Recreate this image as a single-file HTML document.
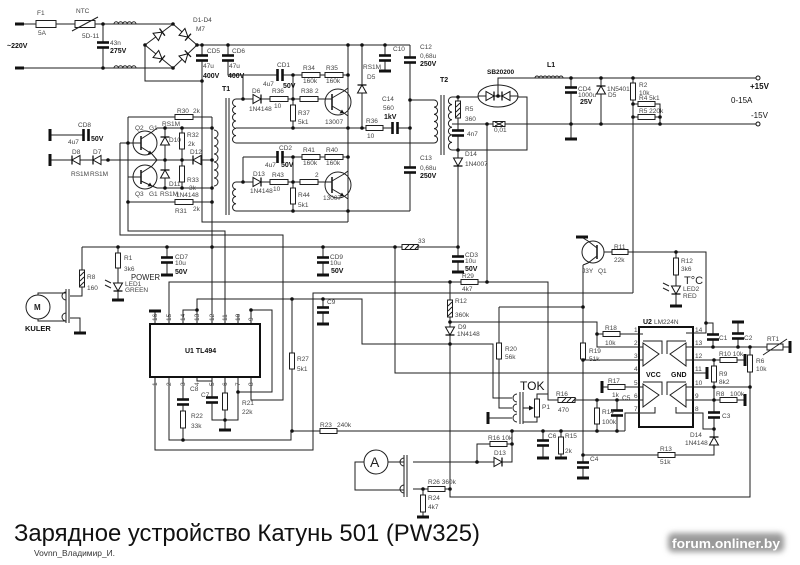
<!DOCTYPE html>
<html><head><meta charset="utf-8">
<style>
html,body{margin:0;padding:0;background:#fff;}
body{width:800px;height:565px;overflow:hidden;position:relative;}
svg{position:absolute;left:0;top:0;}
.w{fill:none;stroke:#1e1e1e;stroke-width:1;}
.r{fill:#fff;stroke:#1e1e1e;stroke-width:1;}
.t{fill:none;stroke:#1e1e1e;stroke-width:1;}
text{font-family:"Liberation Sans",sans-serif;font-size:6.5px;fill:#444;}
.b{font-weight:bold;fill:#111;font-size:7px;}
.m{font-size:5.5px;fill:#333;}
</style></head><body>
<svg width="800" height="565" viewBox="0 0 800 565">
<defs>
<g id="cv"><rect x="-6" y="-1.5" width="12" height="3" fill="#fff"/><rect x="-6" y="-3.8" width="12" height="2.6" fill="#111"/><rect x="-6" y="1.2" width="12" height="2.6" fill="#111"/></g>
<g id="ch"><rect x="-1.5" y="-6" width="3" height="12" fill="#fff"/><rect x="-3.8" y="-6" width="2.6" height="12" fill="#111"/><rect x="1.2" y="-6" width="2.6" height="12" fill="#111"/></g>
<g id="gb"><rect x="-6" y="-1.5" width="12" height="3" fill="#111"/></g>
<g id="gv"><rect x="-1.5" y="-6" width="3" height="12" fill="#111"/></g>
<g id="dr"><path d="M-4 -4.5L-4 4.5L4 0Z" fill="#fff" stroke="#111" stroke-width="1"/><path d="M4 -4.5V4.5" stroke="#111" stroke-width="1.3"/></g>
<filter id="bl" x="-20%" y="-50%" width="140%" height="200%"><feGaussianBlur stdDeviation="3"/></filter>
</defs>

<!-- WIRES -->
<path class="w" d="
M15 24H173 M15 68H173 M103 24V68
M173 24L145 45L173 68L197 45Z
M145 45V81H202 M197 45H410 M202 45V222H348
M228 45V75H348 M243 75V99 M348 45V222
M236 99H326 M293 75V128 M236 128H410 M236 143H434
M243 157H348 M243 157V182 M236 182H326 M293 157V211
M236 211H410 M410 45V211 M410 100H434 M362 45V128 M385 45V71
M128 117H212 M128 117V231H225V324 M212 117V324 M128 202H212
M120 143H141 M120 143V235H283V400H251V377 M128 177H141
M157 128H212 M157 188H212 M50 160H212 M165 128V188 M182 128V188
M50 135H84
M141 139L152 132L157 128 M141 147L152 154L157 160
M141 173L152 166L157 160 M141 181L152 186L157 188
M452 97H478 M458 97V272 M452 150H527V97H518 M452 124H758 M487 124V282
M478 96H518 M498 96V78H758
M571 78V139 M601 78V123 M633 78V293 M633 104H660V123 M633 117H660
M82 247H458 M82 247V296H70 M118 247V300 M167 247V275 M323 247V275
M395 247V373H640
M169 324V282H548V400H640
M183 324V310H197 M197 324V299H362V344H493V398H512
M292 299V431 M323 299V324
M155 377V450H313V293H633
M450 282V497H750V387
M450 322H597V347H640 M597 334H640
M499 307H583 M499 307V408H512 M488 418H512
M537 399V394H548 M537 417V422H523 M525 408H533
M583 265V478 M583 360H640 M583 455H714V400
M604 252H706V333H693 M676 252V306
M706 323H713V347 M693 347H790 M738 347V322 M750 347V387
M693 360H745 M714 360V400 M693 373H707 M693 387H750 M693 400H745
M693 413H703V429H714
M602 387H640 M597 400V431 M617 400V431 M640 413H625V431
M292 431H625 M543 431V458 M561 431V458
M512 431V462H477V444H512 M413 462H477
M364 462H355V490H404 M388 462H404
M413 489H450 M423 489V517
M155 324V311 M238 324V314 M251 324V310H272V392H238
M169 377V440H291V431 M183 377V440 M197 377V381H212
M212 377V420H238V377 M225 377V430
M38 295V293H66 M38 319V321H66 M70 318H80V333
"/>

<!-- coils / inductors -->
<path class="t" d="M214 130a4 4 0 0 1 0 8a4 4 0 0 1 0 8a4 4 0 0 1 0 8a4 4 0 0 1 0 8a4 4 0 0 1 0 8a4 4 0 0 1 0 8a4 4 0 0 1 0 8"/>
<path class="t" d="M236 99a3.67 3.67 0 0 0 0 7.33a3.67 3.67 0 0 0 0 7.33a3.67 3.67 0 0 0 0 7.33a3.67 3.67 0 0 0 0 7.33a3.67 3.67 0 0 0 0 7.33a3.67 3.67 0 0 0 0 7.33"/>
<path class="t" d="M236 182a3.63 3.63 0 0 0 0 7.25a3.63 3.63 0 0 0 0 7.25a3.63 3.63 0 0 0 0 7.25a3.63 3.63 0 0 0 0 7.25"/>
<path class="t" d="M434 100a3.58 3.58 0 0 1 0 7.17a3.58 3.58 0 0 1 0 7.17a3.58 3.58 0 0 1 0 7.17a3.58 3.58 0 0 1 0 7.17a3.58 3.58 0 0 1 0 7.17a3.58 3.58 0 0 1 0 7.17"/>
<path class="t" d="M452 97a3.79 3.79 0 0 0 0 7.57a3.79 3.79 0 0 0 0 7.57a3.79 3.79 0 0 0 0 7.57a3.79 3.79 0 0 0 0 7.57a3.79 3.79 0 0 0 0 7.57a3.79 3.79 0 0 0 0 7.57a3.79 3.79 0 0 0 0 7.57"/>
<path class="t" d="M114 24a2.2 2.2 0 0 1 4.4 0a2.2 2.2 0 0 1 4.4 0a2.2 2.2 0 0 1 4.4 0a2.2 2.2 0 0 1 4.4 0a2.2 2.2 0 0 1 4.4 0"/>
<path class="t" d="M114 68a2.2 2.2 0 0 1 4.4 0a2.2 2.2 0 0 1 4.4 0a2.2 2.2 0 0 1 4.4 0a2.2 2.2 0 0 1 4.4 0a2.2 2.2 0 0 1 4.4 0"/>
<path class="t" d="M535 78a2 2 0 0 1 4 0a2 2 0 0 1 4 0a2 2 0 0 1 4 0a2 2 0 0 1 4 0a2 2 0 0 1 4 0a2 2 0 0 1 4 0a2 2 0 0 1 4 0" stroke-width="1.3"/>
<!-- transformer cores -->
<path class="t" d="M226 98V215M229 98V215M441 95V155M444 95V155" stroke-width="1.2"/>
<!-- oval -->
<ellipse cx="498" cy="96" rx="20" ry="11" class="t"/>

<!-- terminals -->
<rect x="15" y="22.5" width="9" height="3" fill="#111"/>
<rect x="15" y="66.5" width="9" height="3" fill="#111"/>
<use href="#gv" x="50" y="135"/><use href="#gv" x="50" y="160"/>
<circle cx="758" cy="78" r="2" fill="#fff" stroke="#111"/>
<circle cx="758" cy="124" r="2" fill="#fff" stroke="#111"/>

<!-- F1, NTC -->
<rect class="r" x="36" y="20.5" width="20" height="7"/>
<rect class="r" x="75" y="20.5" width="20" height="7"/>
<path class="t" d="M72 31L98 17"/>

<!-- resistors horizontal -->
<g class="r">
<rect x="175" y="114.5" width="18" height="5"/>
<rect x="175" y="199.5" width="18" height="5"/>
<rect x="270" y="96.5" width="18" height="5"/>
<rect x="300" y="96.5" width="18" height="5"/>
<rect x="302" y="72.5" width="18" height="5"/>
<rect x="325" y="72.5" width="18" height="5"/>
<rect x="302" y="154.5" width="18" height="5"/>
<rect x="325" y="154.5" width="18" height="5"/>
<rect x="270" y="179.5" width="18" height="5"/>
<rect x="300" y="179.5" width="18" height="5"/>
<rect x="366" y="125.5" width="17" height="5"/>
<rect x="493" y="121.5" width="12" height="5"/>
<rect x="638" y="101.5" width="17" height="5"/>
<rect x="638" y="114.5" width="17" height="5"/>
<rect x="402" y="244.5" width="16" height="5"/>
<rect x="461" y="279.5" width="17" height="5"/>
<rect x="320" y="428.5" width="17" height="5"/>
<rect x="558" y="397.5" width="17" height="5"/>
<rect x="490" y="441.5" width="17" height="5"/>
<rect x="428" y="486.5" width="17" height="5"/>
<rect x="603" y="331.5" width="17" height="5"/>
<rect x="608" y="384.5" width="17" height="5"/>
<rect x="612" y="249.5" width="16" height="5"/>
<rect x="658" y="452.5" width="17" height="5"/>
<rect x="720" y="357.5" width="17" height="5"/>
<rect x="720" y="397.5" width="17" height="5"/>
<!-- vertical -->
<rect x="179.5" y="133" width="5" height="16"/>
<rect x="179.5" y="166" width="5" height="16"/>
<rect x="290.5" y="105" width="5" height="16"/>
<rect x="290.5" y="188" width="5" height="16"/>
<rect x="455.5" y="101" width="5" height="17"/>
<rect x="630.5" y="83" width="5" height="17"/>
<rect x="79.5" y="270" width="5" height="17"/>
<rect x="115.5" y="253" width="5" height="15"/>
<rect x="289.5" y="353" width="5" height="16"/>
<rect x="447.5" y="300" width="5" height="17"/>
<rect x="496.5" y="343" width="5" height="16"/>
<rect x="580.5" y="343" width="5" height="16"/>
<rect x="594.5" y="408" width="5" height="16"/>
<rect x="558.5" y="437" width="5" height="17"/>
<rect x="420.5" y="495" width="5" height="17"/>
<rect x="180.5" y="411" width="5" height="17"/>
<rect x="222.5" y="393" width="5" height="17"/>
<rect x="673.5" y="258" width="5" height="17"/>
<rect x="711.5" y="366" width="5" height="16"/>
<rect x="747.5" y="355" width="5" height="17"/>
<rect x="534.5" y="399" width="5" height="18"/>
<rect x="767" y="344" width="16" height="6"/>
</g>
<!-- hatch marks -->
<path class="t" d="M80 276L84 272M80 281L84 277M80 286L84 282M456 107L460 103M456 112L460 108M456 117L460 113M448 306L452 302M448 311L452 307M448 316L452 312M405 249L409 245M410 249L414 245M415 249L419 245M562 402L566 398M567 402L571 398M572 402L576 398M495 122L503 126M495 126L503 122M763 355L787 339"/>
<path d="M523 408L533 408" stroke="#111"/><path d="M534 408L529 405.5L529 410.5Z" fill="#111"/>

<!-- capacitors -->
<use href="#cv" x="103" y="45"/><use href="#cv" x="202" y="58"/><use href="#cv" x="228" y="58"/>
<use href="#cv" x="385" y="58"/><use href="#cv" x="410" y="60"/><use href="#cv" x="410" y="170"/>
<use href="#cv" x="458" y="133"/><use href="#cv" x="571" y="90"/><use href="#cv" x="167" y="260"/>
<use href="#cv" x="323" y="260"/><use href="#cv" x="458" y="259"/><use href="#cv" x="323" y="310"/>
<use href="#cv" x="183" y="402"/><use href="#cv" x="212" y="400"/><use href="#cv" x="543" y="443"/>
<use href="#cv" x="617" y="413"/><use href="#cv" x="583" y="465"/><use href="#cv" x="713" y="337"/>
<use href="#cv" x="738" y="336"/><use href="#cv" x="714" y="415"/>
<use href="#ch" x="280" y="75"/><use href="#ch" x="280" y="157"/><use href="#ch" x="395" y="128"/><use href="#ch" x="86" y="135"/>

<!-- grounds -->
<use href="#gb" x="571" y="139"/><use href="#gb" x="385" y="71"/><use href="#gb" x="118" y="300"/>
<use href="#gb" x="167" y="275"/><use href="#gb" x="323" y="275"/><use href="#gb" x="458" y="272"/>
<use href="#gb" x="323" y="324"/><use href="#gb" x="155" y="311"/><use href="#gb" x="225" y="430"/>
<use href="#gb" x="423" y="517"/><use href="#gb" x="543" y="458"/><use href="#gb" x="561" y="458"/>
<use href="#gb" x="583" y="478"/><use href="#gb" x="582" y="237"/><use href="#gb" x="676" y="306"/>
<use href="#gb" x="738" y="322"/><use href="#gb" x="80" y="333"/>
<use href="#gv" x="488" y="418"/><use href="#gv" x="602" y="387"/><use href="#gv" x="745" y="360"/>
<use href="#gv" x="707" y="373"/><use href="#gv" x="745" y="400"/><use href="#gv" x="790" y="347"/>

<!-- diodes -->
<use href="#dr" transform="translate(159,34.5) rotate(-37)"/>
<use href="#dr" transform="translate(185,34.5) rotate(41)"/>
<use href="#dr" transform="translate(159,56.5) rotate(39)"/>
<use href="#dr" transform="translate(185,56.5) rotate(-44)"/>
<use href="#dr" transform="translate(76,160) rotate(180)"/>
<use href="#dr" transform="translate(97,160) rotate(180)"/>
<use href="#dr" transform="translate(165,141) rotate(-90)"/>
<use href="#dr" transform="translate(165,174) rotate(-90)"/>
<use href="#dr" transform="translate(197,160) rotate(180)"/>
<use href="#dr" transform="translate(257,99)"/>
<use href="#dr" transform="translate(257,182)"/>
<use href="#dr" transform="translate(362,89) rotate(-90)"/>
<use href="#dr" transform="translate(458,162) rotate(90)"/>
<use href="#dr" transform="translate(601,90) rotate(-90)"/>
<use href="#dr" transform="translate(450,331) rotate(90)"/>
<use href="#dr" transform="translate(498,462)"/>
<use href="#dr" transform="translate(714,441) rotate(-90)"/>
<use href="#dr" transform="translate(118,287) rotate(90)"/>
<use href="#dr" transform="translate(676,290) rotate(90)"/>
<use href="#dr" transform="translate(490,96)"/>
<use href="#dr" transform="translate(506,96) rotate(180)"/>
<path class="t" d="M111 283L105 280M111 288L105 285M669 286L663 283M669 291L663 288"/>

<!-- transistors -->
<g class="t">
<circle cx="338" cy="102" r="13"/><circle cx="338" cy="185" r="13"/>
<circle cx="145" cy="143" r="12"/><circle cx="145" cy="177" r="12"/>
<circle cx="593" cy="252" r="11"/>
<path d="M326 99H332M332 98L344 91L348 88M332 106L344 113L348 116M326 182H332M332 181L344 174L348 171M332 189L344 196L348 199M597 248L588 241L583 238M597 256L588 263L583 265"/>
<path d="M332 94V110M332 177V193M141 136V150M141 170V184M597 245V259" stroke-width="1.6"/>
<circle cx="376" cy="462" r="12"/><circle cx="38" cy="307" r="12"/>
</g>
<path d="M344 113l-4.5 0.5l2.5 -4z M344 196l-4.5 0.5l2.5 -4z M152 154l-4.5 0.5l2.5 -4z M152 186l-4.5 0.5l2.5 -4z" fill="#111"/>

<!-- connectors -->
<g class="t">
<path d="M66 289V323M69 289V323M66 292a4 4 0 0 0 0 8M66 313a4 4 0 0 0 0 8"/>
<path d="M404 455V497M407 455V497M404 458a4 4 0 0 0 0 8M404 485a4 4 0 0 0 0 8"/>
<path d="M520 392V424M523 392V424M517 394a4 4 0 0 0 0 8M517 404a4 4 0 0 0 0 8M517 414a4 4 0 0 0 0 8"/>
</g>

<!-- ICs -->
<rect x="150" y="324" width="110" height="53" fill="#fff" stroke="#111" stroke-width="2"/>
<rect x="639" y="327" width="54" height="100" fill="#fff" stroke="#111" stroke-width="2"/>
<g class="t">
<path d="M643 343L659 354L643 366ZM643 384L659 395L643 407ZM686 343L670 354L686 366ZM686 384L670 395L686 407Z"/>
<path d="M643 341H662V354M643 382H662V395M686 341H667V354M686 382H667V395"/>
<path d="M639 334H643M639 347H643M639 360H643M639 387H643M639 400H643M639 413H655V407M693 333H686M693 347H686M693 360H686M693 387H686M693 400H686M693 413H676V407"/>
</g>

<!-- nodes -->
<g fill="#111">
<circle cx="103" cy="24" r="1.8"/><circle cx="103" cy="68" r="1.8"/><circle cx="173" cy="24" r="1.8"/><circle cx="173" cy="68" r="1.8"/><circle cx="145" cy="45" r="1.8"/><circle cx="197" cy="45" r="1.8"/><circle cx="202" cy="45" r="1.8"/><circle cx="228" cy="45" r="1.8"/><circle cx="202" cy="81" r="1.8"/>
<circle cx="128" cy="143" r="1.8"/><circle cx="128" cy="202" r="1.8"/><circle cx="212" cy="202" r="1.8"/><circle cx="165" cy="128" r="1.8"/><circle cx="182" cy="128" r="1.8"/><circle cx="165" cy="188" r="1.8"/><circle cx="182" cy="188" r="1.8"/><circle cx="165" cy="160" r="1.8"/><circle cx="182" cy="160" r="1.8"/><circle cx="212" cy="160" r="1.8"/><circle cx="108" cy="160" r="1.8"/><circle cx="212" cy="128" r="1.8"/><circle cx="212" cy="188" r="1.8"/>
<circle cx="243" cy="99" r="1.8"/><circle cx="293" cy="99" r="1.8"/><circle cx="293" cy="128" r="1.8"/><circle cx="293" cy="75" r="1.8"/><circle cx="348" cy="75" r="1.8"/><circle cx="348" cy="128" r="1.8"/><circle cx="362" cy="128" r="1.8"/><circle cx="410" cy="128" r="1.8"/><circle cx="348" cy="45" r="1.8"/><circle cx="362" cy="45" r="1.8"/><circle cx="385" cy="45" r="1.8"/><circle cx="410" cy="100" r="1.8"/><circle cx="293" cy="157" r="1.8"/><circle cx="348" cy="157" r="1.8"/><circle cx="243" cy="182" r="1.8"/><circle cx="293" cy="182" r="1.8"/><circle cx="293" cy="211" r="1.8"/><circle cx="348" cy="211" r="1.8"/>
<circle cx="458" cy="97" r="1.8"/><circle cx="458" cy="150" r="1.8"/><circle cx="487" cy="124" r="1.8"/><circle cx="498" cy="96" r="1.8"/><circle cx="571" cy="78" r="1.8"/><circle cx="601" cy="78" r="1.8"/><circle cx="633" cy="78" r="1.8"/><circle cx="571" cy="124" r="1.8"/><circle cx="601" cy="124" r="1.8"/><circle cx="633" cy="104" r="1.8"/><circle cx="633" cy="117" r="1.8"/><circle cx="660" cy="117" r="1.8"/><circle cx="660" cy="124" r="1.8"/>
<circle cx="118" cy="247" r="1.8"/><circle cx="167" cy="247" r="1.8"/><circle cx="212" cy="247" r="1.8"/><circle cx="323" cy="247" r="1.8"/><circle cx="395" cy="247" r="1.8"/><circle cx="458" cy="247" r="1.8"/><circle cx="450" cy="282" r="1.8"/><circle cx="487" cy="282" r="1.8"/><circle cx="197" cy="310" r="1.8"/><circle cx="292" cy="299" r="1.8"/><circle cx="323" cy="299" r="1.8"/><circle cx="450" cy="322" r="1.8"/><circle cx="450" cy="344" r="1.8"/>
<circle cx="292" cy="431" r="1.8"/><circle cx="512" cy="431" r="1.8"/><circle cx="543" cy="431" r="1.8"/><circle cx="561" cy="431" r="1.8"/><circle cx="597" cy="431" r="1.8"/><circle cx="617" cy="431" r="1.8"/><circle cx="512" cy="444" r="1.8"/><circle cx="477" cy="462" r="1.8"/><circle cx="423" cy="489" r="1.8"/><circle cx="450" cy="489" r="1.8"/><circle cx="183" cy="440" r="1.8"/><circle cx="238" cy="392" r="1.8"/><circle cx="225" cy="420" r="1.8"/><circle cx="251" cy="310" r="1.8"/>
<circle cx="583" cy="307" r="1.8"/><circle cx="583" cy="360" r="1.8"/><circle cx="583" cy="455" r="1.8"/><circle cx="597" cy="334" r="1.8"/><circle cx="597" cy="400" r="1.8"/><circle cx="617" cy="400" r="1.8"/><circle cx="676" cy="252" r="1.8"/><circle cx="706" cy="323" r="1.8"/><circle cx="713" cy="347" r="1.8"/><circle cx="738" cy="347" r="1.8"/><circle cx="750" cy="347" r="1.8"/><circle cx="714" cy="360" r="1.8"/><circle cx="714" cy="387" r="1.8"/><circle cx="714" cy="400" r="1.8"/><circle cx="714" cy="429" r="1.8"/><circle cx="750" cy="387" r="1.8"/>
</g>

<!-- LABELS -->
<text x="37" y="15">F1</text><text x="38" y="35">5A</text><text x="76" y="13">NTC</text><text x="82" y="38">5D-11</text>
<text x="110" y="45">43n</text><text class="b" x="110" y="53">275V</text><text class="b" x="7" y="48">~220V</text>
<text x="193" y="22">D1-D4</text><text x="196" y="31">M7</text>
<text x="207" y="53">CD5</text><text x="203" y="68">47u</text><text class="b" x="203" y="78">400V</text>
<text x="232" y="53">CD6</text><text x="229" y="68">47u</text><text class="b" x="228" y="78">400V</text>
<text class="b" x="222" y="91">T1</text>
<text x="277" y="67">CD1</text><text x="263" y="86">4u7</text><text class="b" x="283" y="88">50V</text>
<text x="252" y="93">D6</text><text x="249" y="111">1N4148</text><text x="272" y="93">R36</text><text x="274" y="108">10</text>
<text x="301" y="93">R38</text><text x="315" y="93">2</text><text x="298" y="115">R37</text><text x="298" y="124">5k1</text>
<text x="303" y="70">R34</text><text x="303" y="83">160k</text><text x="326" y="70">R35</text><text x="326" y="83">160k</text>
<text x="325" y="124">13007</text>
<text x="279" y="150">CD2</text><text x="265" y="167">4u7</text><text class="b" x="281" y="167">50V</text>
<text x="303" y="152">R41</text><text x="303" y="165">160k</text><text x="326" y="152">R40</text><text x="326" y="165">160k</text>
<text x="253" y="176">D13</text><text x="250" y="193">1N4148</text><text x="272" y="177">R43</text><text x="273" y="191">10</text>
<text x="315" y="177">2</text><text x="298" y="197">R44</text><text x="298" y="207">5k1</text><text x="323" y="200">13007</text>
<text x="363" y="69">RS1M</text><text x="367" y="79">D5</text><text x="393" y="51">C10</text>
<text x="420" y="49">C12</text><text x="420" y="58">0,68u</text><text class="b" x="420" y="66">250V</text>
<text x="382" y="101">C14</text><text x="383" y="110">560</text><text class="b" x="384" y="119">1kV</text>
<text x="366" y="123">R36</text><text x="367" y="138">10</text>
<text x="420" y="160">C13</text><text x="420" y="170">0,68u</text><text class="b" x="420" y="178">250V</text>
<text class="b" x="440" y="82">T2</text><text class="b" x="487" y="74" style="font-size:6.5px">SB20200</text>
<text x="465" y="111">R5</text><text x="465" y="121">360</text><text x="467" y="136">4n7</text><text x="494" y="132">0,01</text>
<text x="465" y="156">D14</text><text x="465" y="166">1N4007</text>
<text class="b" x="547" y="67">L1</text>
<text x="578" y="91">CD4</text><text x="578" y="97">1000u</text><text class="b" x="580" y="104">25V</text>
<text x="607" y="91">1N5401</text><text x="608" y="97">D5</text>
<text x="639" y="87">R2</text><text x="639" y="95">10k</text><text x="639" y="100">R4 5k1</text><text x="639" y="113">R5 220k</text>
<text class="b" x="750" y="89" style="font-size:8px">+15V</text><text x="731" y="103" style="font-size:8px;fill:#111">0-15A</text><text x="751" y="118" style="font-size:8px;fill:#111">-15V</text>
<text x="177" y="113">R30</text><text x="193" y="113">2k</text>
<text x="135" y="130">Q2</text><text x="149" y="130">G1</text><text x="162" y="126">RS1M</text>
<text x="169" y="142">D10</text><text x="187" y="137">R32</text><text x="188" y="146">2k</text><text x="190" y="154">D12</text>
<text x="78" y="127">CD8</text><text x="68" y="144">4u7</text><text class="b" x="91" y="141">50V</text>
<text x="72" y="154">D8</text><text x="93" y="154">D7</text><text x="71" y="176">RS1M</text><text x="90" y="176">RS1M</text>
<text x="135" y="196">Q3</text><text x="149" y="196">G1</text><text x="160" y="196">RS1M</text>
<text x="169" y="186">D11</text><text x="187" y="182">R33</text><text x="189" y="190">3k</text><text x="176" y="197">1N4148</text>
<text x="175" y="213">R31</text><text x="193" y="211">2k</text>
<text x="124" y="260">R1</text><text x="124" y="271">3k6</text><text x="125" y="286">LED1</text><text x="125" y="292">GREEN</text>
<text x="175" y="259">CD7</text><text x="175" y="265">10u</text><text class="b" x="175" y="274">50V</text>
<text x="131" y="280" textLength="29" lengthAdjust="spacingAndGlyphs" style="font-size:8.5px;fill:#222">POWER</text>
<text x="87" y="279">R8</text><text x="87" y="290">160</text>
<text x="34" y="310" style="font-size:8px;fill:#222;font-weight:bold">M</text><text class="b" x="25" y="331" style="font-size:7.5px">KULER</text>
<text class="b" x="185" y="353">U1 TL494</text>
<g class="m">
<text transform="translate(157,321) rotate(-90)">16</text><text transform="translate(171,321) rotate(-90)">15</text><text transform="translate(185,321) rotate(-90)">14</text><text transform="translate(199,321) rotate(-90)">13</text><text transform="translate(214,321) rotate(-90)">12</text><text transform="translate(227,321) rotate(-90)">11</text><text transform="translate(240,321) rotate(-90)">10</text><text transform="translate(253,321) rotate(-90)">9</text>
<text transform="translate(157,386) rotate(-90)">1</text><text transform="translate(171,386) rotate(-90)">2</text><text transform="translate(185,386) rotate(-90)">3</text><text transform="translate(199,386) rotate(-90)">4</text><text transform="translate(214,386) rotate(-90)">5</text><text transform="translate(227,386) rotate(-90)">6</text><text transform="translate(240,386) rotate(-90)">7</text><text transform="translate(253,386) rotate(-90)">8</text>
</g>
<text x="190" y="391">C8</text><text x="201" y="397">C7</text><text x="191" y="418">R22</text><text x="191" y="428">33k</text>
<text x="242" y="405">R21</text><text x="242" y="414">22k</text>
<text x="330" y="259">CD9</text><text x="330" y="265">10u</text><text class="b" x="331" y="273">50V</text>
<text x="418" y="243">33</text>
<text x="465" y="257">CD3</text><text x="465" y="263">10u</text><text class="b" x="465" y="271">50V</text>
<text x="462" y="278">R29</text><text x="462" y="291">4k7</text>
<text x="455" y="303">R12</text><text x="455" y="317">360k</text><text x="458" y="329">D9</text><text x="457" y="336">1N4148</text>
<text x="327" y="304">C9</text><text x="297" y="361">R27</text><text x="297" y="371">5k1</text>
<text x="505" y="351">R20</text><text x="505" y="359">56k</text>
<text x="520" y="390" style="font-size:12px;fill:#111">TOK</text><text x="542" y="409">P1</text>
<text x="556" y="396">R16</text><text x="558" y="412">470</text>
<text x="320" y="427">R23</text><text x="337" y="427">240k</text>
<text x="488" y="440">R16 10k</text><text x="494" y="455">D13</text>
<text x="370" y="467" style="font-size:14px;fill:#222">A</text>
<text x="428" y="484">R26 360k</text><text x="428" y="500">R24</text><text x="428" y="509">4k7</text>
<text x="548" y="438">C6</text><text x="565" y="438">R15</text><text x="565" y="453">2k</text><text x="590" y="461">C4</text>
<text x="660" y="451">R13</text><text x="660" y="464">51k</text><text x="690" y="437">D14</text><text x="685" y="445">1N4148</text><text x="722" y="418">C3</text>
<text x="582" y="273">J3Y</text><text x="598" y="273">Q1</text><text x="614" y="249">R11</text><text x="614" y="262">22k</text>
<text x="681" y="263">R12</text><text x="681" y="271">3k6</text>
<text x="684" y="284" style="font-size:11px;fill:#222">T°C</text><text x="683" y="291">LED2</text><text x="683" y="298">RED</text>
<text class="b" x="643" y="324">U2</text><text x="654" y="324">LM224N</text>
<text x="605" y="330">R18</text><text x="605" y="345">10k</text><text x="589" y="353">R19</text><text x="589" y="361">51k</text>
<text x="608" y="383">R17</text><text x="612" y="397">1k</text><text x="602" y="414">R14</text><text x="602" y="424">100k</text><text x="622" y="400">C5</text>
<text class="b" x="646" y="377">VCC</text><text class="b" x="671" y="377">GND</text>
<text x="719" y="340">C1</text><text x="744" y="340">C2</text><text x="767" y="341">RT1</text>
<text x="719" y="356">R10 10k</text><text x="756" y="363">R6</text><text x="756" y="371">10k</text>
<text x="719" y="376">R9</text><text x="719" y="384">8k2</text><text x="716" y="396">R8</text><text x="730" y="396">100k</text>
<g class="m">
<text x="634" y="332">1</text><text x="634" y="345">2</text><text x="634" y="358">3</text><text x="634" y="371">4</text><text x="634" y="385">5</text><text x="634" y="398">6</text><text x="634" y="411">7</text>
<text x="695" y="332">14</text><text x="695" y="345">13</text><text x="695" y="358">12</text><text x="695" y="371">11</text><text x="695" y="385">10</text><text x="695" y="398">9</text><text x="695" y="411">8</text>
</g>

<!-- title -->
<text x="14" y="541" textLength="466" lengthAdjust="spacingAndGlyphs" style="font-size:24px;fill:#111">Зарядное устройство Катунь 501 (PW325)</text>
<text x="34" y="556" textLength="81" lengthAdjust="spacingAndGlyphs" style="font-size:8.5px;fill:#333">Vovnn_Владимир_И.</text>

<!-- watermark -->
<rect x="668" y="533" width="116" height="19" rx="5" fill="#9a9a9a" filter="url(#bl)"/>
<text x="672" y="548" textLength="108" lengthAdjust="spacingAndGlyphs" style="font-size:13px;font-weight:bold;fill:#fff">forum.onliner.by</text>
</svg>
</body></html>
